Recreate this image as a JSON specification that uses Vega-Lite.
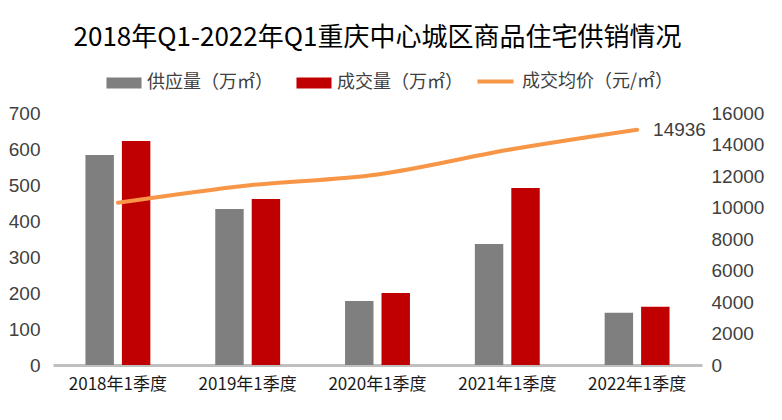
{
  "$schema": "https://vega.github.io/schema/vega-lite/v6.json",
  "width": 649,
  "height": 252,
  "autosize": {"type": "none"},
  "padding": {"left": 53, "top": 113, "right": 80, "bottom": 55},
  "background": "white",
  "config": {
    "view": {"stroke": null},
    "font": "Noto Sans CJK SC",
    "axis": {"grid": false, "ticks": false}
  },
  "title": {
    "text": "2018年Q1-2022年Q1重庆中心城区商品住宅供销情况",
    "fontSize": 26,
    "fontWeight": "normal",
    "color": "#000000",
    "font": "Noto Sans CJK SC",
    "anchor": "middle",
    "frame": "group",
    "offset": 10
  },
  "datasets": {
    "bars": [
      {"year": "2018年1季度", "series": "供应量（万㎡）", "value": 583},
      {"year": "2018年1季度", "series": "成交量（万㎡）", "value": 622},
      {"year": "2019年1季度", "series": "供应量（万㎡）", "value": 433},
      {"year": "2019年1季度", "series": "成交量（万㎡）", "value": 461},
      {"year": "2020年1季度", "series": "供应量（万㎡）", "value": 178},
      {"year": "2020年1季度", "series": "成交量（万㎡）", "value": 200},
      {"year": "2021年1季度", "series": "供应量（万㎡）", "value": 336},
      {"year": "2021年1季度", "series": "成交量（万㎡）", "value": 492},
      {"year": "2022年1季度", "series": "供应量（万㎡）", "value": 145},
      {"year": "2022年1季度", "series": "成交量（万㎡）", "value": 162}
    ],
    "price": [
      {"year": "2018年1季度", "price": 10300, "label": ""},
      {"year": "2019年1季度", "price": 11400, "label": ""},
      {"year": "2020年1季度", "price": 12100, "label": ""},
      {"year": "2021年1季度", "price": 13650, "label": ""},
      {"year": "2022年1季度", "price": 14936, "label": "14936"}
    ]
  },
  "encoding": {
    "x": {
      "field": "year",
      "type": "nominal",
      "sort": null,
      "scale": {"paddingInner": 0.5, "paddingOuter": 0.25},
      "axis": {
        "title": null,
        "labelAngle": 0,
        "labelFont": "Noto Sans CJK SC",
        "labelFontSize": 17,
        "labelColor": "#1a1a1a",
        "labelPadding": 11,
        "domainColor": "#bfbfbf",
        "domainWidth": 3
      }
    }
  },
  "layer": [
    {
      "data": {"name": "bars"},
      "mark": {"type": "bar"},
      "encoding": {
        "xOffset": {"field": "series", "type": "nominal", "sort": null, "scale": {"paddingInner": 0.22}},
        "y": {
          "field": "value",
          "type": "quantitative",
          "scale": {"domain": [0, 700]},
          "axis": {
            "title": null,
            "values": [0, 100, 200, 300, 400, 500, 600, 700],
            "domain": false,
            "labelFont": "Liberation Sans",
            "labelFontSize": 19,
            "labelColor": "#404040",
            "labelPadding": 13
          }
        },
        "color": {
          "field": "series",
          "type": "nominal",
          "sort": null,
          "scale": {"domain": ["供应量（万㎡）", "成交量（万㎡）"], "range": ["#7f7f7f", "#c00000"]},
          "legend": {
            "title": null,
            "orient": "none",
            "legendX": 60,
            "legendY": -41,
            "direction": "horizontal",
            "symbolType": "M-1.6,-0.5H1.6V0.5H-1.6Z",
            "symbolSize": 480,
            "symbolOpacity": 1,
            "symbolStrokeWidth": 0,
            "labelFontSize": 18,
            "labelColor": "#404040",
            "labelFont": "Noto Sans CJK SC",
            "labelOffset": 12,
            "columnPadding": 23
          }
        }
      }
    },
    {
      "data": {"name": "price"},
      "mark": {"type": "line", "interpolate": "monotone", "strokeWidth": 4, "strokeCap": "round"},
      "encoding": {
        "y": {
          "field": "price",
          "type": "quantitative",
          "scale": {"domain": [0, 16000]},
          "axis": {
            "title": null,
            "orient": "right",
            "format": "d",
            "values": [0, 2000, 4000, 6000, 8000, 10000, 12000, 14000, 16000],
            "domain": false,
            "labelFont": "Liberation Sans",
            "labelFontSize": 19,
            "labelColor": "#404040",
            "labelPadding": 9
          }
        },
        "color": {
          "datum": "成交均价（元/㎡）",
          "type": "nominal",
          "scale": {"range": ["#f79646"]},
          "legend": {
            "title": null,
            "orient": "none",
            "legendX": 422,
            "legendY": -52,
            "symbolType": "stroke",
            "symbolStrokeWidth": 4,
            "symbolSize": 1300,
            "labelFontSize": 18,
            "labelColor": "#404040",
            "labelFont": "Noto Sans CJK SC",
            "labelOffset": 6
          }
        }
      }
    },
    {
      "data": {"name": "price"},
      "mark": {"type": "text", "align": "left", "baseline": "middle", "dx": 16, "dy": 0, "fontSize": 19, "font": "Liberation Sans", "color": "#404040"},
      "encoding": {
        "y": {"field": "price", "type": "quantitative", "scale": {"domain": [0, 16000]}, "axis": null},
        "text": {"field": "label"}
      }
    }
  ],
  "resolve": {"scale": {"y": "independent", "color": "independent"}}
}
